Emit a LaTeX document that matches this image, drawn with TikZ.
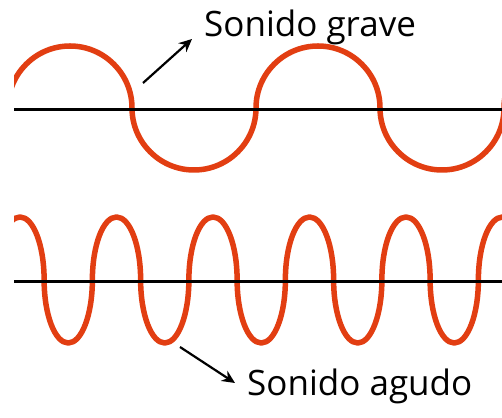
\documentclass[tikz,border=0pt]{standalone}
\usepackage{fontspec}
\setmainfont{Open Sans}
\usetikzlibrary{arrows.meta}
\definecolor{wavecol}{RGB}{226,62,18}
\tikzset{
  x=1pt, y=1pt,
  wave/.style={draw=wavecol, line width=5.5pt, line join=round},
  axisline/.style={draw=black, line width=3pt},
  pointer/.style={draw=black, line width=2.2pt, -{Stealth[length=13pt,width=12pt]}},
  lbl/.style={font=\fontsize{35}{40}\selectfont, inner sep=0pt, anchor=base west, text=black}
}
\begin{document}
\begin{tikzpicture}
\useasboundingbox (0,0) rectangle (502,417);
\fill[white] (0,0) rectangle (502,417);
% top wave (low frequency): semicircles
\begin{scope}
  \clip (14,0) rectangle (502,417);
  \draw[wave] (8,309) arc[start angle=180,end angle=0,radius=62]
    arc[start angle=180,end angle=360,radius=62]
    arc[start angle=180,end angle=0,radius=62]
    arc[start angle=180,end angle=360,radius=62]
    arc[start angle=180,end angle=0,radius=62];
\end{scope}
\coordinate (a1s) at (14,307);
\coordinate (a1e) at (502,307);
\draw[axisline] (a1s) -- (a1e);
% bottom wave (high frequency): semi-ellipses
\begin{scope}
  \clip (14,0) rectangle (502,417);
  \draw[wave] (-4.125,137)
    \foreach \i in {1,...,6} {
      arc[start angle=180,end angle=0,x radius=24.125,y radius=63]
      arc[start angle=180,end angle=360,x radius=24.125,y radius=63]
    };
\end{scope}
\coordinate (a2s) at (14,135);
\coordinate (a2e) at (502,135);
\draw[axisline] (a2s) -- (a2e);
% labels
\node[lbl] (grave) at (204,380) {Sonido grave};
\node[lbl] (agudo) at (247,22) {Sonido agudo};
\coordinate (t1) at (143,334);
\coordinate (h1) at (192,378);
\draw[pointer] (t1) -- (h1);
\coordinate (t2) at (180,70);
\coordinate (h2) at (235,34);
\draw[pointer] (t2) -- (h2);
\end{tikzpicture}
\end{document}
